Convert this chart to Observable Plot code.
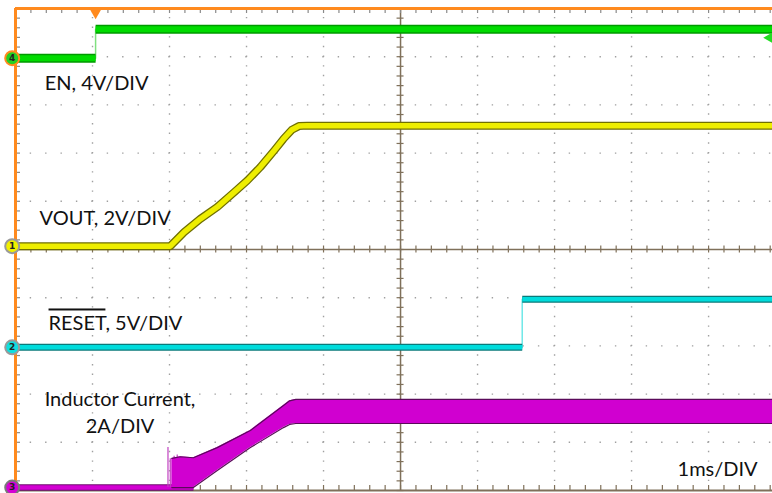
<!DOCTYPE html>
<html><head><meta charset="utf-8">
<script src="https://cdn.jsdelivr.net/npm/d3@7"></script>
<script src="https://cdn.jsdelivr.net/npm/@observablehq/plot@0.6"></script>
<style>
html,body{margin:0;padding:0;background:#fff;overflow:hidden;}
#chart svg{display:block;}
</style></head><body><div id="chart"></div>
<script>
// ---- time base: ms relative to EN rising edge, 1 ms/DIV ----
const tStart = -1.04;
const tEnd = 8.79;

// ---- channels (offset in divisions from screen bottom, volts or amps per div) ----
const chanIds     = ["4", "1", "2", "3"];
const chanNames   = ["EN", "VOUT", "RESET", "IL"];
const chanOffsets = [8.97, 5.07, 2.97, 0.06];
const chanScales  = [4, 2, 5, 2];

// ---- EN (V) ----
const enTime  = [-1.04, 0, 0, 8.79];
const enVolts = [0, 0, 2.4, 2.4];
const enSeg   = [0, 0, 1, 1];

// ---- VOUT (V) ----
const voutTime  = [-1.04, 0.97, 1.15, 1.36, 1.58, 1.80, 1.97, 2.14, 2.32, 2.44, 2.55, 2.64, 2.75, 8.79];
const voutVolts = [0, 0, 0.58, 1.13, 1.62, 2.24, 2.72, 3.28, 3.97, 4.45, 4.83, 4.98, 5.0, 5.0];

// ---- RESET (V) ----
const resetTime  = [-1.04, 5.54, 5.54, 8.79];
const resetVolts = [0, 0, 5, 5];
const resetSeg   = [0, 0, 1, 1];

// ---- Inductor current (A): baseline + ripple envelope ----
const ilBaseTime = [-1.04, 1.27];
const ilBaseAmps = [0, 0];
const ilTime = [0.99, 1.1, 1.27, 1.58, 2.01, 2.44, 2.52, 2.6, 8.79];
const ilLow  = [0, 0, 0, 0.71, 1.66, 2.49, 2.62, 2.66, 2.66];
const ilHigh = [1.21, 1.28, 1.24, 1.66, 2.37, 3.41, 3.6, 3.66, 3.66];
const spikeTime = [0.94, 0.97, 1.02, 1.06];
const spikeAmps = [1.66, 1.2, 1.3, 1.35];

// ---- trigger ----
const trigTime = [0];
const trigLevelVolts = [1.7];

// ---- annotations ----
const labelText = ["EN, 4V/DIV", "VOUT, 2V/DIV", "RESET, 5V/DIV", "1ms/DIV"];
const labelTime = [-0.66, -0.728, -0.611, 7.557];
const labelDiv  = [8.30, 5.50, 3.32, 0.31];
const ilLabelText = ["Inductor Current,", "2A/DIV"];
const ilLabelTime = [0.317, 0.317];
const ilLabelDiv  = [1.76, 1.20];

// ---- build tables ----
const toDiv = (ch, v) => chanOffsets[ch] + v / chanScales[ch];
const en = enTime.map((t, i) => ({t, d: toDiv(0, enVolts[i]), seg: enSeg[i]}));
const vout = voutTime.map((t, i) => ({t, d: toDiv(1, voutVolts[i])}));
const reset = resetTime.map((t, i) => ({t, d: toDiv(2, resetVolts[i]), seg: resetSeg[i]}));
const ilBase = ilBaseTime.map((t, i) => ({t, d: toDiv(3, ilBaseAmps[i])}));
const il = ilTime.map((t, i) => ({t, lo: toDiv(3, ilLow[i]), hi: toDiv(3, ilHigh[i])}));
const spikes = spikeTime.map((t, i) => ({t, d0: toDiv(3, 0), d1: toDiv(3, spikeAmps[i])}));
const chans = chanIds.map((id, i) => ({id, d: chanOffsets[i],
  fill: ["#22d022", "#f0f000", "#10dede", "#d400d4"][i],
  ring: ["#ff8a1e", "#9a9a9a", "#9a9a9a", "#7a7a7a"][i]}));
const labels = labelText.map((text, i) => ({text, t: labelTime[i], d: labelDiv[i]}));
const ilLabels = ilLabelText.map((text, i) => ({text, t: ilLabelTime[i], d: ilLabelDiv[i]}));

// grid
const center = tStart + 5;
const majorT = d3.range(1, 10).filter(k => k !== 5).map(k => tStart + k);
const majorD = d3.range(1, 10).filter(k => k !== 5);
const minorT = d3.range(0, 51).map(k => tStart + k / 5).filter(t => t <= tEnd);
const minorD = d3.range(0, 51).map(k => k / 5);

const grid = "#a0a0a0";
const axisCol = "#7f705a";
const orange = "#ff8a1e";
const font = "Lato, 'Open Sans', sans-serif";
const butt = {strokeLinecap: "butt", strokeLinejoin: "round"};

const plot = Plot.plot({
  width: 772, height: 493,
  marginTop: 0, marginRight: 0, marginBottom: 0, marginLeft: 0,
  x: {domain: [tStart, tEnd], range: [15, 772], axis: null},
  y: {domain: [0, 10], range: [490, 8], axis: null},
  style: {background: "#ffffff"},
  marks: [
    // dotted graticule
    Plot.ruleX(majorT, {y1: 0, y2: 10, stroke: grid, strokeWidth: 1.4, strokeDasharray: "1.4,8.24", strokeDashoffset: 0.7}),
    Plot.ruleY(majorD, {x1: tStart, x2: tEnd, stroke: grid, strokeWidth: 1.4, strokeDasharray: "1.4,14.0", strokeDashoffset: 0.7}),
    // center crosshair
    Plot.ruleX([center], {y1: 0, y2: 10, stroke: axisCol, strokeWidth: 1.5}),
    Plot.ruleY([5], {x1: tStart, x2: tEnd, stroke: axisCol, strokeWidth: 1.5}),
    Plot.ruleY(minorD, {x1: center, x2: center, insetLeft: -3.5, insetRight: -3.5, stroke: axisCol, strokeWidth: 1.2}),
    Plot.ruleX(minorT, {y1: 5, y2: 5, insetTop: -3.5, insetBottom: -3.5, stroke: axisCol, strokeWidth: 1.2}),
    // border ticks
    Plot.ruleX(minorT, {y1: 10, y2: 10, insetTop: 0, insetBottom: -5, stroke: "#8a8a8a", strokeWidth: 1.2}),
    Plot.ruleX(minorT, {y1: 0, y2: 0, insetTop: -5, insetBottom: 0, stroke: axisCol, strokeWidth: 1.2}),
    Plot.ruleY(minorD, {x1: tStart, x2: tStart, insetLeft: 0, insetRight: -5, stroke: "#8a8a8a", strokeWidth: 1.2}),
    // borders
    Plot.ruleY([0], {x1: tStart, x2: tEnd, stroke: axisCol, strokeWidth: 2}),
    Plot.ruleY([10], {x1: tStart, x2: tEnd, stroke: orange, strokeWidth: 3}),
    Plot.ruleX([tStart], {y1: 0, y2: 10, stroke: orange, strokeWidth: 3}),

    // Inductor current
    Plot.line(ilBase, {x: "t", y: "d", stroke: "#6e0a6e", strokeWidth: 6.5, ...butt}),
    Plot.line(ilBase, {x: "t", y: "d", stroke: "#d200d2", strokeWidth: 4.5, ...butt}),
    Plot.ruleX(spikes, {x: "t", y1: "d0", y2: "d1", stroke: "#c040c0", strokeWidth: 1.2}),
    Plot.areaY(il, {x: "t", y1: "lo", y2: "hi", fill: "#d000d0"}),
    Plot.line(il, {x: "t", y: "hi", stroke: "#5a0a5a", strokeWidth: 1.2}),
    Plot.line(il, {x: "t", y: "lo", stroke: "#5a0a5a", strokeWidth: 1.2}),

    // RESET
    Plot.line(reset, {x: "t", y: "d", stroke: "#70e8e8", strokeWidth: 1.5}),
    Plot.line(reset, {x: "t", y: "d", z: "seg", stroke: "#0a7a7a", strokeWidth: 7, ...butt}),
    Plot.line(reset, {x: "t", y: "d", z: "seg", stroke: "#00dcdc", strokeWidth: 4.5, ...butt}),

    // VOUT
    Plot.line(vout, {x: "t", y: "d", stroke: "#6f6f00", strokeWidth: 8, ...butt}),
    Plot.line(vout, {x: "t", y: "d", stroke: "#eeee00", strokeWidth: 5.5, ...butt}),

    // EN
    Plot.line(en, {x: "t", y: "d", stroke: "#80e080", strokeWidth: 1.5}),
    Plot.line(en, {x: "t", y: "d", z: "seg", stroke: "#009a00", strokeWidth: 9, ...butt}),
    Plot.line(en, {x: "t", y: "d", z: "seg", stroke: "#00dc00", strokeWidth: 6, ...butt}),

    // trigger markers
    Plot.dot(trigTime, {x: d => d, y: () => 10, symbol: "triangle", rotate: 180, r: 5, fill: orange, dy: 3}),
    Plot.dot(trigLevelVolts, {x: () => tEnd, y: v => toDiv(0, v), symbol: "triangle", rotate: -90, r: 4, fill: "#22dd22", dx: -3}),

    // channel markers
    Plot.dot(chans, {x: () => tStart, y: "d", r: 7, fill: "fill", stroke: "ring", strokeWidth: 2, dx: -3.3}),
    Plot.text(chans, {x: () => tStart, y: "d", text: "id", dx: -3.3, fontSize: 9, fontWeight: "bold", fill: "#222", fontFamily: "'DejaVu Sans', sans-serif"}),

    // labels
    Plot.text(labels, {x: "t", y: "d", text: "text", textAnchor: "start", lineAnchor: "bottom", fontSize: 20, fontFamily: font, fill: "#111"}),
    Plot.text(ilLabels, {x: "t", y: "d", text: "text", textAnchor: "middle", lineAnchor: "bottom", fontSize: 20, fontFamily: font, fill: "#111"})
  ]
});
document.getElementById("chart").appendChild(plot);

// overline on RESET
d3.select(plot).selectAll("text").each(function() {
  const el = d3.select(this);
  if (el.text() === "RESET, 5V/DIV") {
    el.text("");
    el.append("tspan").style("text-decoration", "overline").text("RESET");
    el.append("tspan").text(", 5V/DIV");
  }
});
</script>
</body></html>
